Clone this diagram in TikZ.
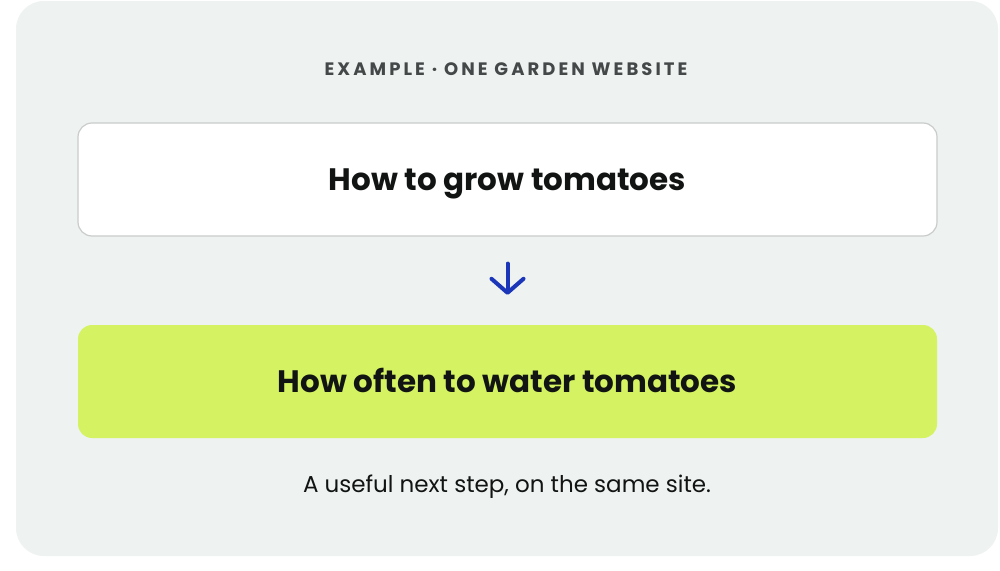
\documentclass[tikz,border=0pt]{standalone}
\usepackage{fontspec}
\setmainfont{Poppins}
\newfontfamily\kickerfont[LetterSpace=17]{Poppins}
\usetikzlibrary{arrows.meta,positioning}

\definecolor{panelgray}{HTML}{EEF2F1}
\definecolor{cardline}{HTML}{C9CCCB}
\definecolor{limegreen}{HTML}{D4F262}
\definecolor{arrowblue}{HTML}{1B36B8}
\definecolor{kickergray}{HTML}{444848}
\definecolor{inkblack}{HTML}{111413}

\tikzset{
  card/.style={rounded corners=14pt, minimum width=859pt, minimum height=113pt,
    inner sep=0pt, text height=22pt, text depth=0pt, text=inkblack,
    font=\fontsize{31}{36}\selectfont\bfseries},
  nextarrow/.style={arrowblue, line width=4pt, line cap=round,
    -{Straight Barb[length=14pt,width=32pt,line cap=round,line join=round]}}
}

\begin{document}
\begin{tikzpicture}[x=1pt,y=-1pt]
\useasboundingbox (0,0) rectangle (1000,570);

% panel
\fill [white] (0,0) rectangle (1000,570);
\fill [panelgray, rounded corners=28pt] (16,1) rectangle (998,556);

\node [text=kickergray, font=\fontsize{18}{22}\kickerfont\bfseries, anchor=base] (kicker) at (506,75) {EXAMPLE · ONE GARDEN WEBSITE};

\node [card, draw=cardline, line width=1.2pt, fill=white] (grow) at (507.5,179.5) {How to grow tomatoes};
\node [card, fill=limegreen] (water) at (507.5,381.5) {How often to water tomatoes};

\draw [nextarrow, shorten <=27pt, shorten >=30pt] (grow.south) -- (water.north);

\node [text=inkblack, font=\fontsize{23}{27}\selectfont, anchor=base] (caption) at (507,492) {A useful next step, on the same site.};
\end{tikzpicture}
\end{document}
